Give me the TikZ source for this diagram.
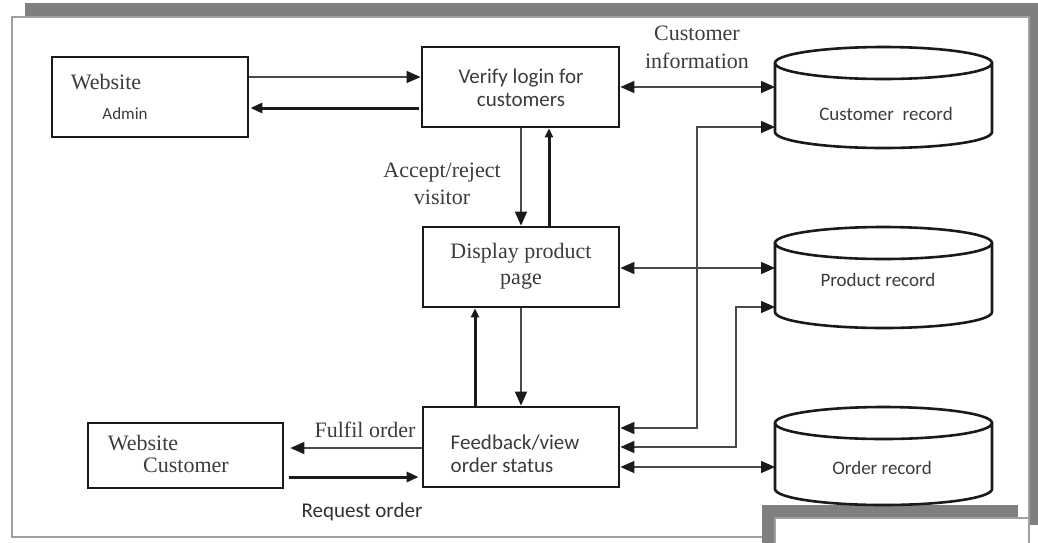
\documentclass[tikz,border=0pt]{standalone}
\usepackage{fontspec}
\setmainfont{Liberation Serif}
\newfontfamily\bodysans{Carlito}
\usetikzlibrary{arrows.meta}
\definecolor{ink}{HTML}{1A1A1A}
\definecolor{txt}{HTML}{3C3C3C}
\definecolor{frameg}{HTML}{7F7F7F}
\definecolor{rimg}{HTML}{A0A0A0}
\definecolor{flow}{HTML}{4A4A4A}

\tikzset{
  proc/.style={draw=ink, line width=2.8pt, minimum width=196pt, minimum height=80pt, inner sep=0pt},
  sanstext/.style={font=\bodysans\fontsize{21}{23}\selectfont, text=txt, align=center, inner sep=0pt},
  seriftext/.style={font=\fontsize{22}{27}\selectfont, text=txt, align=center, inner sep=0pt},
  dbtext/.style={font=\bodysans\fontsize{19}{21}\selectfont, text=txt, inner sep=0pt},
  dbbody/.style={minimum width=217pt, inner sep=0pt, outer sep=0pt},
  dbline/.style={draw=ink, line width=2.6pt},
  thinhead/.tip={Triangle[length=14pt, width=12pt, color=ink]},
  thickhead/.tip={Triangle[length=12pt, width=10pt]},
  smallhead/.tip={Triangle[length=9pt, width=8pt]},
  flowthin/.style={draw=flow, line width=1.6pt, -thinhead},
  flowboth/.style={draw=flow, line width=1.6pt, thinhead-thinhead},
  flowthick/.style={draw=ink, line width=3pt, -thickhead},
  flowup/.style={draw=ink, line width=3pt, -smallhead},
}

% data store drawn as an open-top cylinder: name, x, top y, bottom y, text x, text y, text
\newcommand\datastore[7]{%
  \node[dbbody, minimum height={#4-#3+32}] (#1) at (#2,{(#3+#4)/2}) {};
  \draw[dbline] (#2,#3) ellipse [x radius=108.5, y radius=16];
  \draw[dbline] ({#2-108.5},#3) -- ({#2-108.5},#4)
     arc [start angle=180, end angle=0, x radius=108.5, y radius=16] -- ({#2+108.5},#3);
  \node[dbtext] (#1-label) at (#5,#6) {#7};
}

\begin{document}
\begin{tikzpicture}[x=1pt, y=1pt, yscale=-1]
\useasboundingbox (0,0) rectangle (1038,542);
\fill[white] (0,0) rectangle (1038,542);

% page frame with its drop shadow
\fill[frameg] (25,3) rectangle (1038,17);
\fill[frameg] (1030,3) rectangle (1038,525);
\draw[rimg, line width=1.8pt] (12,17) rectangle (1029,537);

% corner of the following sheet
\fill[frameg] (762,505) rectangle (1018,518);
\fill[frameg] (762,505) rectangle (775,545);
\fill[white] (775,518) rectangle (1029,545);
\draw[rimg, line width=1.2pt] (775,545) -- (775,518) -- (1029,518) -- (1029,545);

% processes and external entities
\node[proc] (admin) at (150,97) {};
\node[seriftext] (admin-a) at (106,82) {Website};
\node[sanstext, font=\bodysans\fontsize{17}{19}\selectfont] (admin-b) at (125,114) {Admin};

\node[proc, minimum width=197pt] (verify) at (520.5,87) {};
\node[sanstext] (verify-t) at (521,88) {Verify login for\\customers};

\node[proc] (display) at (521,267) {};
\node[seriftext, font=\fontsize{22}{26}\selectfont] (display-t) at (521,266) {Display product\\page};

\node[proc] (feedback) at (521,447) {};
\node[sanstext, align=left] (feedback-t) at (515,454) {Feedback/view\\order status};

\node[proc, minimum width=195pt, minimum height=65pt] (customer) at (185.5,455.5) {};
\node[seriftext] (customer-a) at (143,443) {Website};
\node[seriftext] (customer-b) at (186,465) {Customer};

% data stores
\datastore{custdb}{883.5}{63}{132}{886}{114}{Customer~~record}
\datastore{proddb}{883.5}{243}{312}{878}{280}{Product record}
\datastore{orderdb}{883.5}{423}{489}{882}{468}{Order record}

% bends of the routed links
\coordinate (bendA) at (697,127);
\coordinate (bendB) at (736,307);

% admin <-> verify
\draw[flowthin] (admin.east |- 0,77) -- (verify.west |- 0,77);
\draw[flowthick, shorten <=2pt, shorten >=1pt] (verify.west |- 0,108) -- (admin.east |- 0,108);

% verify <-> display
\draw[flowthin] (verify.south -| 521,0) -- (display.north -| 521,0);
\draw[flowup] (display.north -| 549,0) -- (verify.south -| 549,0);
\node[seriftext] (accept) at (442,184) {Accept/reject\\visitor};

% display <-> feedback
\draw[flowthin] (display.south -| 521,0) -- (feedback.north -| 521,0);
\draw[flowup] (feedback.north -| 475,0) -- (display.south -| 475,0);

% feedback <-> customer
\draw[flowthin, shorten >=6pt] (feedback.west |- 0,448) -- (customer.east |- 0,448);
\node[seriftext] (fulfil) at (365,430) {Fulfil order};
\draw[flowthick, shorten <=5pt, shorten >=3pt] (customer.east |- 0,477) -- (feedback.west |- 0,477);
\node[sanstext, text=ink!90] (request) at (362,512) {Request order};

% links to the data stores
\draw[flowboth] (verify.east |- 0,87) -- (custdb.west |- 0,87);
\node[seriftext, font=\fontsize{22}{28}\selectfont] (custinfo) at (697,47) {Customer\\information};
\draw[flowboth] (feedback.east |- 0,428) -| (bendA) -- (custdb.west |- bendA);
\draw[flowboth] (display.east |- 0,268) -- (proddb.west |- 0,268);
\draw[flowboth] (feedback.east |- 0,447) -| (bendB) -- (proddb.west |- bendB);
\draw[flowboth] (feedback.east |- 0,467) -- (orderdb.west |- 0,467);
\end{tikzpicture}
\end{document}
